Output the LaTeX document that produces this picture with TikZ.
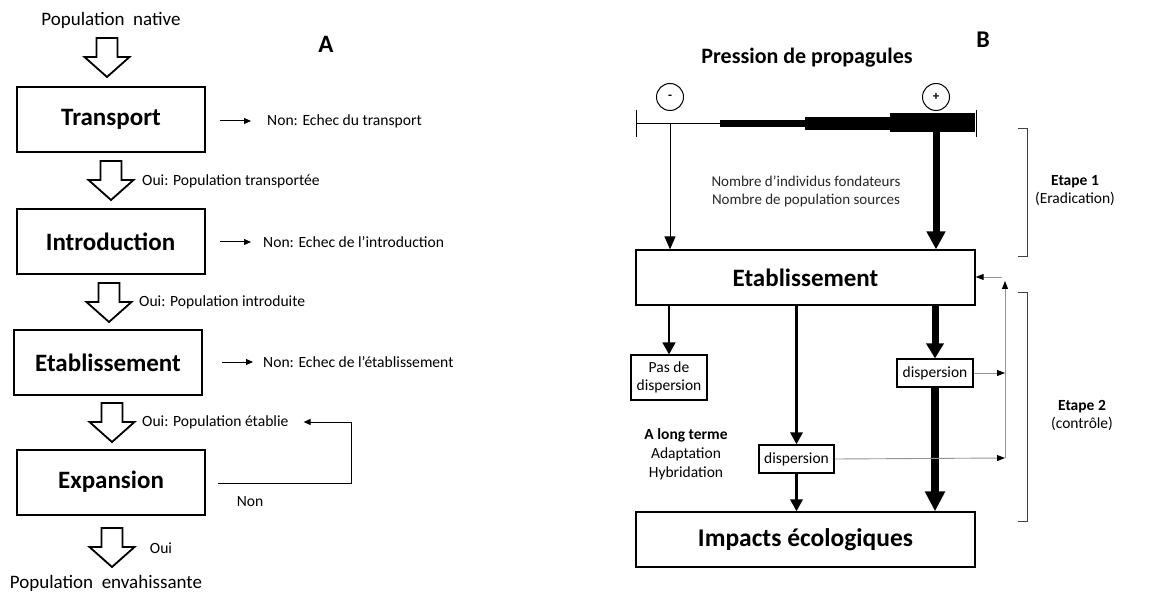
\documentclass[tikz,border=0pt]{standalone}
\usepackage{fontspec}
\setmainfont{Carlito}
\usetikzlibrary{arrows.meta,calc}
\begin{document}
\begin{tikzpicture}[x=1pt,y=-1pt,
  boxA/.style={draw,line width=2pt,minimum width=188pt,minimum height=65pt,inner sep=0pt,font=\fontsize{25}{28}\selectfont\bfseries},
  boxB/.style={draw,line width=1.2pt,inner sep=0pt},
  lbl/.style={anchor=west,inner sep=0pt,font=\fontsize{15.6}{18}\selectfont},
  ctr/.style={inner sep=0pt,align=center},
  arrA/.style={line width=1pt,-{Triangle[length=7pt,width=6pt]}},
  harrow/.pic={\draw[line width=1.8pt,line join=miter,fill=white] (-10.5,0) -- (10.5,0) -- (10.5,19) -- (22.5,19) -- (0,39) -- (-22.5,19) -- (-10.5,19) -- cycle;},
  fb/.style={draw=gray!85,line width=0.9pt},
  fbtip/.style={-{Triangle[length=8pt,width=6pt,color=black]}},
  brk/.style={draw=black!75,line width=1pt}
]
\useasboundingbox (0,0) rectangle (1161,593);

% ---------------- Panel A ----------------
\node[ctr,font=\fontsize{19}{22}\selectfont] (native) at (111,20) {Population\ \ native};
\node[ctr,font=\fontsize{25}{28}\selectfont\bfseries] (labA) at (326,44) {A};

\node[boxA] (trans) at (111,119.5) {Transport};
\node[boxA] (intro) at (110.5,241.5) {Introduction};
\node[boxA] (etabA) at (108,362.5) {Etablissement};
\node[boxA] (expan) at (111,482) {Expansion};
\node[ctr,font=\fontsize{19}{22}\selectfont] (envah) at (106,583) {Population\ \ envahissante};

\pic at (107,38) {harrow};
\pic at (111,161) {harrow};
\pic at (109,283) {harrow};
\pic at (112,403) {harrow};
\pic at (112,528) {harrow};

\node[lbl] (oui1) at (142,181) {Oui: Population transportée};
\node[lbl] (oui2) at (139,302) {Oui: Population introduite};
\node[lbl] (oui3) at (142,422) {Oui: Population établie};
\node[ctr,font=\fontsize{15.6}{18}\selectfont] (oui4) at (161,548) {Oui};

\node[lbl] (non1) at (267,121) {Non: Echec du transport};
\node[lbl] (non2) at (263,242) {Non: Echec de l’introduction};
\node[lbl] (non3) at (263,362) {Non: Echec de l’établissement};
\node[ctr,font=\fontsize{15.6}{18}\selectfont] (non4) at (250,502) {Non};

\draw[arrA] ($(trans.east |- non1.west)+(14,0)$) -- ($(non1.west)+(-16,0)$);
\draw[arrA] ($(intro.east |- non2.west)+(14,0)$) -- ($(non2.west)+(-12,0)$);
\draw[arrA] ($(etabA.east |- non3.west)+(19,0)$) -- ($(non3.west)+(-10,0)$);

\coordinate (fbA1) at ($(expan.east)+(12,1)$);
\coordinate (fbA2) at (351,483);
\draw[arrA] (fbA1) -- (fbA2) -- (fbA2 |- oui3.east) -- ($(oui3.east)+(15,0)$);

% ---------------- Panel B ----------------
\node[ctr,font=\fontsize{24}{28}\selectfont\bfseries] (labB) at (983,40) {B};
\node[ctr,font=\fontsize{22}{24}\selectfont\bfseries] (press) at (807,58) {Pression de propagules};

\node[draw,circle,line width=1pt,minimum size=27pt,inner sep=0pt,font=\fontsize{13}{13}\selectfont\bfseries] (minus) at (670,97) {-};
\node[draw,circle,line width=1pt,minimum size=27pt,inner sep=0pt,font=\fontsize{13}{13}\selectfont\bfseries] (plus) at (936,97) {+};

% gradient bar
\coordinate (barL) at (636,124);
\coordinate (barR) at (976,124);
\draw[line width=1pt] (636,110) -- (636,137);
\draw[line width=1pt] (976,110) -- (976,137);
\draw[line width=1pt] (barL) -- (720,124);
\fill (720,120.5) rectangle (805,127.3);
\fill (805,117.3) rectangle (890,130);
\fill (890,113.3) rectangle (975,132.3);

\node[boxB,minimum width=339pt,minimum height=55pt,font=\fontsize{25}{28}\selectfont\bfseries] (etabB) at (805.5,277.5) {Etablissement};
\node[boxB,minimum width=339pt,minimum height=55pt,font=\fontsize{25.5}{28}\selectfont\bfseries] (impact) at (805.5,539.5) {Impacts écologiques};

\node[ctr,font=\fontsize{15}{18}\selectfont,text=black!85] (nombre) at (806,191) {Nombre d’individus fondateurs\\Nombre de population sources};

\coordinate (mtop) at (670,124);
\coordinate (ptop) at (936,132);
\draw[line width=1pt,-{Triangle[length=13pt,width=11pt]}] (mtop) -- (mtop |- etabB.north);
\draw[line width=7pt,-{Triangle[length=18pt,width=18pt]}] (ptop) -- (ptop |- etabB.north);

\node[boxB,minimum width=76pt,minimum height=45pt,ctr,font=\fontsize{15.5}{18}\selectfont] (pas) at (669,377.5) {Pas de\\dispersion};
\node[boxB,minimum width=75pt,minimum height=28pt,font=\fontsize{15.5}{18}\selectfont] (dispM) at (796.5,459) {dispersion};
\node[boxB,minimum width=76pt,minimum height=28pt,font=\fontsize{15.5}{18}\selectfont] (dispR) at (935,373) {dispersion};

\node[ctr,font=\fontsize{15.5}{19}\selectfont] (along) at (686,454) {\textbf{A long terme}\\Adaptation\\Hybridation};

\draw[line width=1.5pt,-{Triangle[length=12pt,width=13pt]}] (pas.north |- etabB.south) -- (pas.north);
\draw[line width=3pt,-{Triangle[length=12pt,width=12pt]}] (dispM.north |- etabB.south) -- (dispM.north);
\draw[line width=3pt,-{Triangle[length=12pt,width=12pt]}] (dispM.south) -- (dispM.south |- impact.north);
\draw[line width=7pt,-{Triangle[length=15pt,width=17pt]}] (dispR.north |- etabB.south) -- (dispR.north);
\draw[line width=7.5pt,-{Triangle[length=20pt,width=19pt]}] (dispR.south) -- (dispR.south |- impact.north);

% feedback (dispersion -> Etablissement)
\coordinate (fbx) at (1005,458);
\draw[fb,fbtip] (dispR.east) -- (dispR.east -| fbx);
\draw[fb,fbtip] (dispM.east) -- (fbx);
\draw[fb,fbtip] (fbx) -- (1005,281);
\draw[fb,fbtip] (1002,277) -- (etabB.east |- 0,277);

% brackets
\draw[brk] (1018,129) -- (1027,129) -- (1027,257) -- (1018,257);
\draw[brk] (1018,293) -- (1027,293) -- (1027,521) -- (1018,521);
\node[ctr,font=\fontsize{15.5}{18}\selectfont] (etape1) at (1075,191) {\textbf{Etape 1}\\(Eradication)};
\node[ctr,font=\fontsize{15.5}{18}\selectfont] (etape2) at (1082,415) {\textbf{Etape 2}\\(contrôle)};
\end{tikzpicture}
\end{document}
